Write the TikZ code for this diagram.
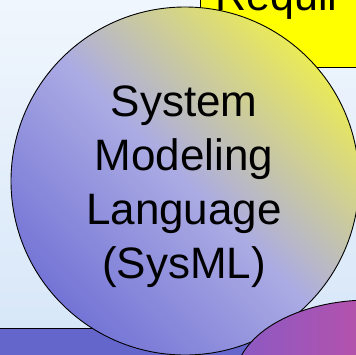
\documentclass[tikz,border=0pt]{standalone}
\usepackage{fontspec}
\setmainfont{Liberation Sans}
\usetikzlibrary{shapes.geometric}

\definecolor{bgtop}{HTML}{F0F6FD}
\definecolor{bgbot}{HTML}{D6E6F8}
\definecolor{reqyellow}{HTML}{FFFF00}
\definecolor{baseblue}{HTML}{6466CC}
\definecolor{langblue}{HTML}{7474D6}
\definecolor{langlav}{HTML}{ABABE4}
\definecolor{langyellow}{HTML}{EAEA58}
\definecolor{toolpurple}{HTML}{8A5AC4}
\definecolor{toolpink}{HTML}{DA4A96}
\definecolor{toolrose}{HTML}{E44890}

\begin{document}
\begin{tikzpicture}[x=1pt,y=-1pt]
\useasboundingbox (0,0) rectangle (356,354);
\clip (0,0) rectangle (356,354);
\shade[top color=bgtop,bottom color=bgbot] (0,0) rectangle (356,354);

\begin{scope}[every node/.style={draw=black,line width=0.9pt,inner sep=0pt}]
    \node (base) at (180,360) [rectangle,fill=baseblue,minimum width=400pt,minimum height=64pt] {};
    \node (reqbox) at (340,3.5) [rectangle,fill=reqyellow,minimum width=280pt,minimum height=127pt] {};
    \node (reqlabel) at (215,10) [draw=none,anchor=base west,font=\fontsize{43}{50}\selectfont] {Requir};

    \node (sysml) at (185,181) [circle,minimum size=348pt,
        top color=langyellow,bottom color=langblue,middle color=langlav,shading angle=-45] {};
    \node (sysmllabel) at (184,187) [draw=none,align=center,font=\fontsize{44}{54}\selectfont]
        {System\\Modeling\\Language\\(SysML)};

    \node (tool) at (370,380) [ellipse,minimum width=270pt,minimum height=160pt,
        left color=toolpurple,middle color=toolpink,right color=toolrose] {};
\end{scope}
\end{tikzpicture}
\end{document}
